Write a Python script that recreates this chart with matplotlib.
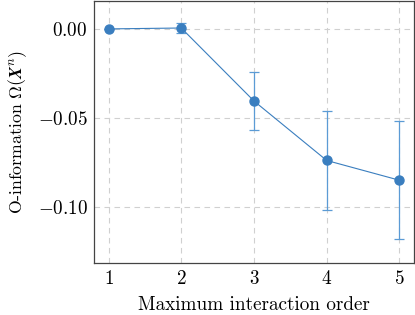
import matplotlib
matplotlib.use('Agg')
from matplotlib import pyplot as plt

# 数据
orders = [1, 2, 3, 4, 5]
o_info = [0.0, 0.0005, -0.0405, -0.0739, -0.085]
o_err = [0.0, 0.003, 0.0164, 0.028, 0.033]
y_ticks = [0.0, -0.05, -0.10]
y_tick_labels = ['$0.00$', '$-0.05$', '$-0.10$']

plt.rcParams['font.family'] = 'serif'
plt.rcParams['font.serif'] = ['cmr10']
plt.rcParams['mathtext.fontset'] = 'cm'
plt.rcParams['axes.formatter.use_mathtext'] = True

fig = plt.figure(figsize=(4.15, 3.15), dpi=100)
ax = fig.add_axes([0.2265, 0.165, 0.771, 0.832])

line_color = '#3a7ebf'
ax.errorbar(orders, o_info, yerr=o_err, color=line_color, ecolor='#5b9bd5',
    elinewidth=0.9, capsize=3.5, capthick=0.9, marker='o', markersize=6.5,
    linewidth=0.8, zorder=3)

ax.set_xlim(0.8, 5.2)
ax.set_ylim(-0.1315, 0.0157)
ax.set_xticks(orders)
ax.set_xticklabels(['$%d$' % o for o in orders])
ax.set_yticks(y_ticks)
ax.set_yticklabels(y_tick_labels)
ax.tick_params(length=0, labelsize=13.8)
ax.tick_params(axis='y', pad=4.5)
ax.tick_params(axis='x', pad=5)

ax.grid(True, linestyle=(0, (5, 4)), color='#d0d0d0', linewidth=0.8)
for s in ax.spines.values():
    s.set_color('#444444')
    s.set_linewidth(0.9)

ax.set_xlabel('Maximum interaction order', fontsize=13.8, labelpad=6)
ax.set_ylabel(r'O-information $\Omega(\boldsymbol{X}^n)$', fontsize=12.8, labelpad=6)

fig.savefig('out.png', dpi=100)
